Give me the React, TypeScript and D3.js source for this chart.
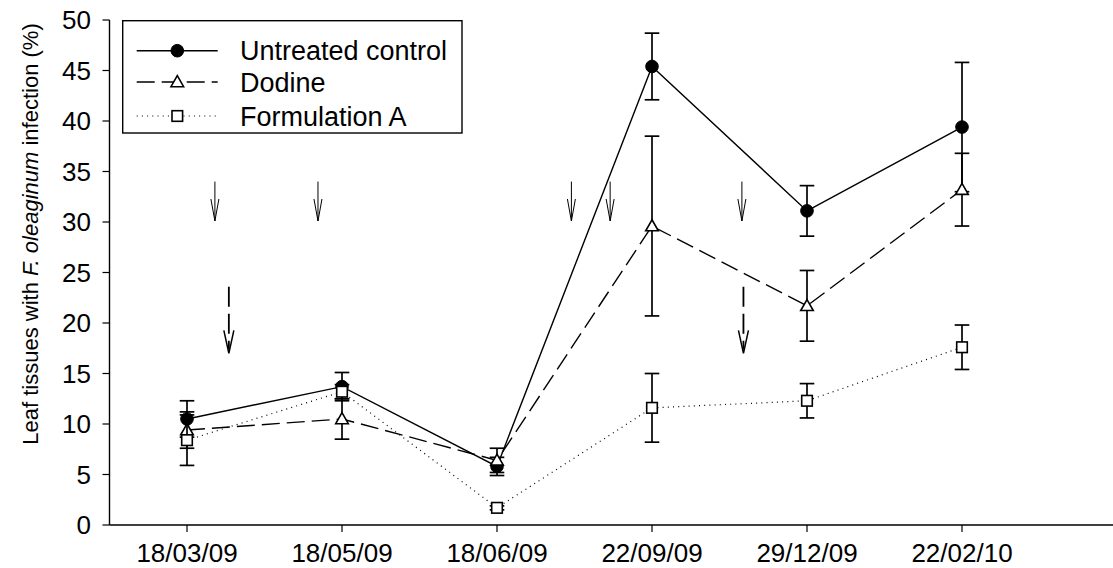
import React from "react";
import * as d3 from "d3";

const categories = ["18/03/09", "18/05/09", "18/06/09", "22/09/09", "29/12/09", "22/02/10"];
const yTicks = [0, 5, 10, 15, 20, 25, 30, 35, 40, 45, 50];

const controlMean = [10.5, 13.7, 5.8, 45.4, 31.1, 39.4];
const controlErr = [1.8, 1.4, 0.9, 3.3, 2.5, 6.4];
const dodineMean = [9.4, 10.5, 6.4, 29.6, 21.7, 33.2];
const dodineErr = [1.8, 2.0, 1.2, 8.9, 3.5, 3.6];
const formAMean = [8.4, 13.2, 1.7, 11.6, 12.3, 17.6];
const formAErr = [2.5, 0.7, 0.2, 3.4, 1.7, 2.2];

// treatment arrows (x in category-index units, y in % units)
const solidArrowX = [0.18, 0.845, 2.48, 2.73, 3.58];
const solidArrowY = [34, 30.1];
const dashedArrowX = [0.27, 3.59];
const dashedArrowY = [23.6, 17.0];

const FONT = "'Liberation Sans', Arial, Helvetica, sans-serif";

type Series = {
  name: string;
  mean: number[];
  err: number[];
  dash: string;
  marker: "circle" | "triangle" | "square";
};

const series: Series[] = [
  { name: "Untreated control", mean: controlMean, err: controlErr, dash: "none", marker: "circle" },
  { name: "Dodine", mean: dodineMean, err: dodineErr, dash: "18,7", marker: "triangle" },
  { name: "Formulation A", mean: formAMean, err: formAErr, dash: "1,4.2", marker: "square" },
];

function Marker({ type, cx, cy }: { type: string; cx: number; cy: number }) {
  if (type === "circle") return <circle cx={cx} cy={cy} r={6.3} fill="#000" stroke="#000" strokeWidth={1} />;
  if (type === "triangle") {
    const h = 10.5, w = 6.3;
    return (
      <path
        d={`M${cx},${cy - h * 0.6}L${cx + w},${cy + h * 0.45}L${cx - w},${cy + h * 0.45}Z`}
        fill="#fff"
        stroke="#000"
        strokeWidth={1.6}
      />
    );
  }
  return <rect x={cx - 5.3} y={cy - 5.3} width={10.6} height={10.6} fill="#fff" stroke="#000" strokeWidth={1.6} />;
}

export default function App() {
  const W = 1113, H = 568;
  const x = d3.scaleLinear().domain([-0.5, 6]).range([109.5, 1117]);
  const y = d3.scaleLinear().domain([0, 50]).range([525, 20]);
  const line = d3
    .line<number>()
    .x((_, i) => x(i))
    .y((d) => y(d));

  const legendX = 122.7, legendY = 20.7;
  const legendRows = [50.7, 82, 116];

  return (
    <svg width={W} height={H} style={{ position: "absolute", left: 0, top: 0, background: "#fff" }} fontFamily={FONT}>
      <rect width={W} height={H} fill="#fff" />
      {/* axes */}
      <line x1={x(-0.5)} x2={x(6)} y1={y(0)} y2={y(0)} stroke="#000" strokeWidth={1.4} />
      <line x1={x(-0.5)} x2={x(-0.5)} y1={y(0)} y2={y(50)} stroke="#000" strokeWidth={1.4} />
      {yTicks.map((t) => (
        <g key={t}>
          <line x1={x(-0.5) - 7} x2={x(-0.5)} y1={y(t)} y2={y(t)} stroke="#000" strokeWidth={1.2} />
          <text x={91} y={y(t)} dy="0.36em" textAnchor="end" fontSize={26}>
            {t}
          </text>
        </g>
      ))}
      {categories.map((c, i) => (
        <g key={c}>
          <line x1={x(i)} x2={x(i)} y1={y(0)} y2={y(0) + 7} stroke="#000" strokeWidth={1.2} />
          <text x={x(i)} y={562} textAnchor="middle" fontSize={26}>
            {c}
          </text>
        </g>
      ))}
      <text transform={`translate(38,234) rotate(-90)`} textAnchor="middle" fontSize={22}>
        Leaf tissues with <tspan fontStyle="italic">F. oleaginum</tspan> infection (%)
      </text>

      {/* arrows */}
      {solidArrowX.map((ax, i) => {
        const px = x(ax), y0 = y(solidArrowY[0]), y1 = y(solidArrowY[1]);
        return (
          <g key={"sa" + i} stroke="#000" strokeWidth={1} fill="none">
            <line x1={px} x2={px} y1={y0} y2={y1} />
            <path d={`M${px - 4},${y1 - 22}L${px},${y1}L${px + 4},${y1 - 22}`} />
          </g>
        );
      })}
      {dashedArrowX.map((ax, i) => {
        const px = x(ax), y0 = y(dashedArrowY[0]), y1 = y(dashedArrowY[1]);
        return (
          <g key={"da" + i} stroke="#000" strokeWidth={1.8} fill="none">
            <line x1={px} x2={px} y1={y0} y2={y1 - 4} strokeDasharray="20,7" />
            <path d={`M${px - 5},${y1 - 23}L${px},${y1}L${px + 5},${y1 - 23}`} strokeWidth={1.5} />
          </g>
        );
      })}

      {/* series */}
      {series.map((s) => (
        <g key={s.name}>
          <path d={line(s.mean) || ""} fill="none" stroke="#000" strokeWidth={s.marker === "square" ? 1.2 : 1.4} strokeDasharray={s.dash} />
          {s.mean.map((m, i) => (
            <g key={i} stroke="#000" strokeWidth={1.7}>
              <line x1={x(i)} x2={x(i)} y1={y(m - s.err[i])} y2={y(m + s.err[i])} />
              <line x1={x(i) - 7.3} x2={x(i) + 7.3} y1={y(m + s.err[i])} y2={y(m + s.err[i])} />
              <line x1={x(i) - 7.3} x2={x(i) + 7.3} y1={y(m - s.err[i])} y2={y(m - s.err[i])} />
            </g>
          ))}
          {s.mean.map((m, i) => (
            <Marker key={"m" + i} type={s.marker} cx={x(i)} cy={y(m)} />
          ))}
        </g>
      ))}

      {/* legend */}
      <rect x={legendX} y={legendY} width={462 - legendX} height={133 - legendY} fill="#fff" stroke="#000" strokeWidth={1.4} />
      {series.map((s, i) => (
        <g key={"lg" + i}>
          <line
            x1={136.7}
            x2={217.7}
            y1={legendRows[i]}
            y2={legendRows[i]}
            stroke="#000"
            strokeWidth={s.marker === "square" ? 1.2 : 1.4}
            strokeDasharray={s.dash}
          />
          <Marker type={s.marker} cx={177.3} cy={legendRows[i]} />
          <text x={240} y={legendRows[i]} dy="0.36em" fontSize={27}>
            {s.name}
          </text>
        </g>
      ))}
    </svg>
  );
}
